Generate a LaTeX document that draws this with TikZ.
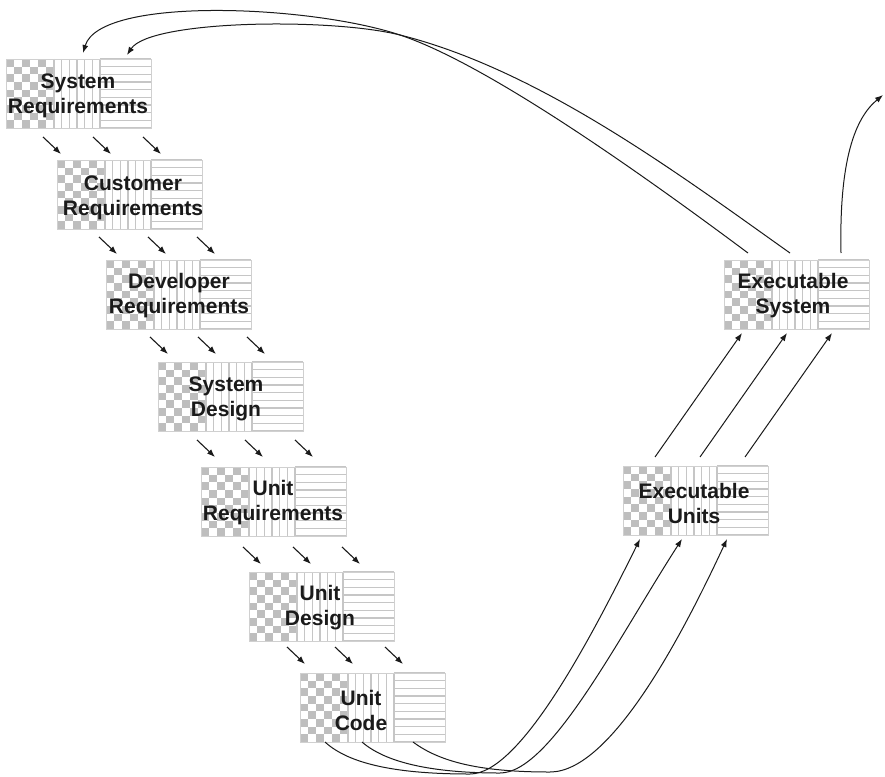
\documentclass[tikz,border=0pt]{standalone}
\usepackage{fontspec}
\setmainfont{Liberation Sans}
\usetikzlibrary{arrows.meta,calc}

\definecolor{tilegray}{HTML}{BEBEBE}
\definecolor{stripegray}{HTML}{C6C6C6}
\definecolor{framegray}{HTML}{D0D0D0}
\definecolor{ink}{HTML}{1A1A1A}

\tikzset{
  stageframe/.style={draw=framegray, line width=0.8pt, minimum width=145pt,
    minimum height=69pt, inner sep=0pt},
  caption/.style={font=\fontsize{21}{25}\selectfont\bfseries, align=center,
    text=ink, inner sep=0pt},
  handoff/.style={draw=ink, line width=1.1pt, -{Latex[length=8pt,width=6pt]}},
  feed/.style={draw=ink, line width=1pt, -{Latex[length=8pt,width=6pt]}},
}

% one work-product box: checker | vertical stripes | horizontal stripes
\newcommand\stagebox[3]{% name, left, top
  \begin{scope}[shift={(#2,#3)}]
    \foreach \i in {0,2,4}{\foreach \j in {0,2,4,6,8}{
      \fill[tilegray] (\i*8,\j*7.667) rectangle ++(8,7.667);}}
    \foreach \i in {1,3,5}{\foreach \j in {1,3,5,7}{
      \fill[tilegray] (\i*8,\j*7.667) rectangle ++(8,7.667);}}
    \foreach \k in {0,...,6}{
      \draw[stripegray,line width=1.3pt] (48+\k*7.667,0) -- ++(0,69);}
    \foreach \k in {0,...,9}{
      \draw[stripegray,line width=1.3pt] (94,\k*7.667) -- ++(51,0);}
  \end{scope}
  \node[stageframe] (#1) at (#2+72.5,#3+34.5) {};
}

\begin{document}
\begin{tikzpicture}[x=1pt,y=-1pt]
\useasboundingbox (0,0) rectangle (885,776);
\fill[white] (0,0) rectangle (885,776);

% descending chain of specification boxes
\stagebox{sr}{6}{59}
\stagebox{cr}{57}{160}
\stagebox{dr}{106}{260}
\stagebox{sd}{158}{362}
\stagebox{ur}{201}{467}
\stagebox{ud}{249}{572}
\stagebox{uc}{300}{673}
% ascending integration boxes
\stagebox{eu}{623}{466}
\stagebox{es}{724}{260}

\node[caption] (sr-t) at (78,96) {System\\Requirements};
\node[caption] (cr-t) at (133,198) {Customer\\Requirements};
\node[caption] (dr-t) at (179,296) {Developer\\Requirements};
\node[caption] (sd-t) at (226,399) {System\\Design};
\node[caption] (ur-t) at (273,503) {Unit\\Requirements};
\node[caption] (ud-t) at (320,608) {Unit\\Design};
\node[caption] (uc-t) at (361,710) {Unit\\Code};
\node[caption] (eu-t) at (694,503) {Executable\\Units};
\node[caption] (es-t) at (793,296) {Executable\\System};

% hand-offs between consecutive boxes
\foreach \sx/\sy [count=\n] in {43/137,93/137,143/137,
    99/237,148/237,197/237,
    150/337,198/337,247/337,
    197/440,245/440,295/440,
    243/547,293/547,342/547,
    287/647,335/647,385/647}{
  \coordinate (h\n-a) at (\sx,\sy);
  \coordinate (h\n-b) at (\sx+18,\sy+17);
  \draw[handoff] (h\n-a) -- (h\n-b);
}

% unit code into executable units
\coordinate (uc-o1) at (325,742);
\coordinate (uc-o2) at (362,742);
\coordinate (uc-o3) at (413,742);
\coordinate (eu-i1) at (640,539);
\coordinate (eu-i2) at (682,539);
\coordinate (eu-i3) at (727,539);
\draw[feed] (uc-o1) .. controls (350,765) and (400,774) .. (470,774)
  .. controls (520,774) and (590,640) .. (eu-i1);
\draw[feed] (uc-o2) .. controls (385,762) and (430,773) .. (500,773)
  .. controls (550,773) and (617,640) .. (eu-i2);
\draw[feed] (uc-o3) .. controls (440,762) and (480,772) .. (550,772)
  .. controls (610,772) and (680,640) .. (eu-i3);

% executable units into executable system
\coordinate (eu-o1) at (655,457);
\coordinate (eu-o2) at (700,457);
\coordinate (eu-o3) at (745,457);
\coordinate (es-i1) at (742,333);
\coordinate (es-i2) at (787,333);
\coordinate (es-i3) at (832,333);
\draw[feed] (eu-o1) -- (es-i1);
\draw[feed] (eu-o2) -- (es-i2);
\draw[feed] (eu-o3) -- (es-i3);

% feedback to the system requirements and the outgoing result
\coordinate (es-o1) at (748,253);
\coordinate (es-o2) at (790,253);
\coordinate (es-o3) at (841,253);
\coordinate (sr-i1) at (83,53);
\coordinate (sr-i2) at (127,55);
\coordinate (out-tip) at (883,95);
\draw[feed] (es-o1) .. controls (650,180) and (490,65) .. (400,35)
  .. controls (310,5) and (100,-4) .. (sr-i1);
\draw[feed] (es-o2) .. controls (680,175) and (540,70) .. (400,35)
  .. controls (330,17.5) and (150,20) .. (sr-i2);
\draw[feed] (es-o3) .. controls (839,160) and (855,118) .. (out-tip);
\end{tikzpicture}
\end{document}
